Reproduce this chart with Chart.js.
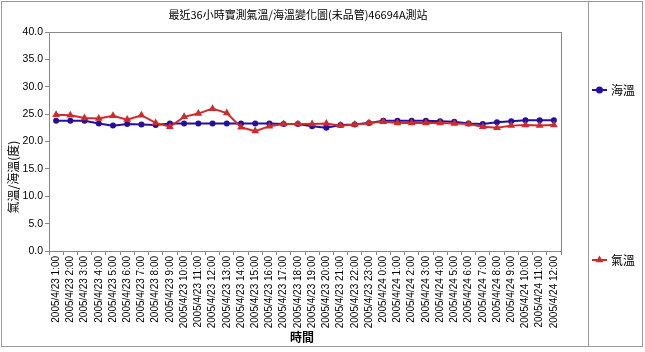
<!DOCTYPE html>
<html>
<head>
<meta charset="utf-8">
<script src="https://cdn.jsdelivr.net/npm/chart.js@4.4.1/dist/chart.umd.min.js"></script>
<style>
  body { margin: 0; background: #fff; }
  #wrap { width: 645px; height: 352px; }
</style>
</head>
<body>
<div id="wrap"><canvas id="chart" width="645" height="352"></canvas></div>
<script>
const chartTitle = '最近36小時實測氣溫/海溫變化圖(未品管)46694A測站';
const yTitle = '氣溫/海溫(度)';
const xTitle = '時間';

// 2005/4/23 1:00 ... 2005/4/24 12:00
const labels = [
  '2005/4/23 1:00', '2005/4/23 2:00', '2005/4/23 3:00', '2005/4/23 4:00',
  '2005/4/23 5:00', '2005/4/23 6:00', '2005/4/23 7:00', '2005/4/23 8:00',
  '2005/4/23 9:00', '2005/4/23 10:00', '2005/4/23 11:00', '2005/4/23 12:00',
  '2005/4/23 13:00', '2005/4/23 14:00', '2005/4/23 15:00', '2005/4/23 16:00',
  '2005/4/23 17:00', '2005/4/23 18:00', '2005/4/23 19:00', '2005/4/23 20:00',
  '2005/4/23 21:00', '2005/4/23 22:00', '2005/4/23 23:00', '2005/4/24 0:00',
  '2005/4/24 1:00', '2005/4/24 2:00', '2005/4/24 3:00', '2005/4/24 4:00',
  '2005/4/24 5:00', '2005/4/24 6:00', '2005/4/24 7:00', '2005/4/24 8:00',
  '2005/4/24 9:00', '2005/4/24 10:00', '2005/4/24 11:00', '2005/4/24 12:00'
];

const seaTemp = [
  23.8, 23.8, 23.8, 23.3, 22.9, 23.2, 23.1, 23.0, 23.3, 23.3, 23.3, 23.3,
  23.3, 23.3, 23.3, 23.3, 23.2, 23.2, 22.8, 22.5, 23.0, 23.1, 23.4, 23.8,
  23.8, 23.8, 23.8, 23.7, 23.6, 23.3, 23.2, 23.5, 23.7, 23.9, 23.9, 23.9
];

const airTemp = [
  24.9, 24.8, 24.3, 24.2, 24.7, 24.0, 24.8, 23.4, 22.7, 24.5, 25.1, 26.0,
  25.2, 22.6, 21.9, 22.8, 23.2, 23.2, 23.2, 23.3, 22.9, 23.1, 23.4, 23.6,
  23.4, 23.4, 23.4, 23.4, 23.3, 23.2, 22.7, 22.5, 22.9, 23.0, 22.9, 23.0
];

const seaColor = '#24109c';
const airColor = '#d02a2a';
const latin = '"Liberation Sans", Arial, sans-serif';
const cjk = '"Noto Sans CJK TC", "Noto Sans CJK SC", sans-serif';

// frames, titles and the legend, Excel style
const decor = {
  id: 'decor',
  beforeDraw(chart) {
    const ctx = chart.ctx;
    ctx.save();
    ctx.fillStyle = '#fff';
    ctx.fillRect(0, 0, chart.width, chart.height);
    ctx.restore();
  },
  afterDraw(chart) {
    const ctx = chart.ctx;
    const a = chart.chartArea;
    ctx.save();
    ctx.strokeStyle = '#888';
    ctx.lineWidth = 1;
    ctx.strokeRect(Math.round(a.left) + 0.5, Math.round(a.top) + 0.5, Math.round(a.right - a.left), Math.round(a.bottom - a.top));
    // outer frame + legend box
    ctx.strokeStyle = '#999';
    ctx.strokeRect(1.5, 1.5, 641, 345);
    ctx.beginPath();
    ctx.moveTo(588.5, 2);
    ctx.lineTo(588.5, 346);
    ctx.stroke();

    ctx.fillStyle = '#000';
    ctx.textAlign = 'center';
    ctx.textBaseline = 'middle';
    ctx.font = '11px ' + cjk;
    ctx.fillText(chartTitle, 298, 15);
    ctx.font = 'bold 12px ' + cjk;
    ctx.fillText(xTitle, 302, 337);

    ctx.font = '12px ' + cjk;
    ctx.translate(13, 177);
    ctx.rotate(-Math.PI / 2);
    ctx.fillText(yTitle, 0, 0);
    ctx.setTransform(1, 0, 0, 1, 0, 0);

    const items = [
      { text: '海溫', color: seaColor, y: 90, shape: 'circle' },
      { text: '氣溫', color: airColor, y: 260, shape: 'triangle' }
    ];
    items.forEach((it) => {
      ctx.strokeStyle = it.color;
      ctx.fillStyle = it.color;
      ctx.lineWidth = 2;
      ctx.beginPath();
      ctx.moveTo(592, it.y);
      ctx.lineTo(607, it.y);
      ctx.stroke();
      Chart.helpers.drawPoint(ctx, { pointStyle: it.shape, radius: 2.5, borderWidth: 1 }, 599.5, it.y);
      ctx.fillStyle = '#000';
      ctx.textAlign = 'left';
      ctx.font = '12px ' + cjk;
      ctx.fillText(it.text, 611, it.y);
    });
    ctx.restore();
  }
};

new Chart(
  document.getElementById('chart'),
  {
    type: 'line',
    plugins: [decor],
    data: {
      labels: labels,
      datasets: [
        {
          label: '海溫',
          data: seaTemp,
          borderColor: seaColor,
          backgroundColor: seaColor,
          borderWidth: 2,
          pointStyle: 'circle',
          pointRadius: 2,
          order: 1
        },
        {
          label: '氣溫',
          data: airTemp,
          borderColor: airColor,
          backgroundColor: airColor,
          borderWidth: 2,
          pointStyle: 'triangle',
          pointRadius: 2.5,
          order: 0
        }
      ]
    },
    options: {
      responsive: false,
      animation: false,
      devicePixelRatio: 1,
      layout: { padding: { left: 0, top: 32, right: 84, bottom: 0 } },
      plugins: {
        legend: { display: false },
        tooltip: { enabled: false }
      },
      scales: {
        x: {
          offset: true,
          afterFit: (scale) => { scale.height = 101; },
          grid: {
            offset: true,
            drawOnChartArea: false,
            drawTicks: true,
            tickLength: 4,
            color: '#888'
          },
          border: { display: false },
          ticks: {
            autoSkip: false,
            maxRotation: 90,
            minRotation: 90,
            padding: 1,
            color: '#000',
            font: { family: latin, size: 10 }
          }
        },
        y: {
          min: 0,
          max: 40,
          afterFit: (scale) => { scale.width = 49; },
          grid: {
            drawOnChartArea: false,
            drawTicks: true,
            tickLength: 4,
            color: '#888'
          },
          border: { display: false },
          ticks: {
            stepSize: 5,
            padding: 2,
            color: '#000',
            font: { family: latin, size: 10.5 },
            callback: (v) => v.toFixed(1)
          }
        }
      }
    }
  }
);
</script>
</body>
</html>
